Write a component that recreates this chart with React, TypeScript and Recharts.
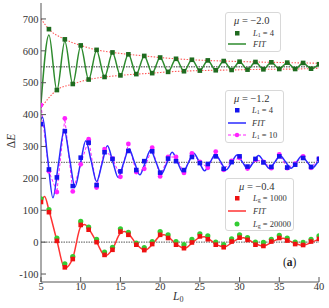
import React from "react";
import { ComposedChart, Line, Scatter, XAxis, YAxis, ReferenceLine } from "recharts";

// integer L0 grid used by the measured points
const L0 = [5, 6, 7, 8, 9, 10, 11, 12, 13, 14, 15, 16, 17, 18, 19, 20, 21, 22, 23, 24, 25, 26, 27, 28, 29, 30, 31, 32, 33, 34, 35, 36, 37, 38, 39, 40];

// mu = -2.0
const greenL1x = L0.slice(1);
const greenL1y = [668, 477, 636, 496, 617, 510, 603, 518, 595, 523, 589, 527, 584, 530, 579, 534, 575, 536, 572, 538, 570, 539, 568, 540, 566, 541, 565, 542, 564, 543, 563, 543, 562, 544, 558];
const greenFitY = [435, 650, 476, 630, 496, 614, 510, 601, 518, 594, 523, 589, 527, 584, 530, 579, 534, 575, 536, 572, 538, 570, 539, 568, 540, 566, 541, 565, 542, 564, 543, 563, 543, 562, 544, 558];
const upperEnvX = [5, 6, 8, 10, 12, 14, 16, 18, 20, 24, 28, 32, 36, 40];
const upperEnvY = [700, 668, 636, 617, 603, 595, 589, 584, 579, 572, 568, 565, 563, 561];
const lowerEnvX = [5, 7, 9, 11, 13, 15, 17, 19, 21, 25, 29, 33, 37, 40];
const lowerEnvY = [422, 477, 496, 510, 518, 523, 527, 530, 534, 538, 540, 542, 543, 545];

// mu = -1.2
const blueL1y = [370, 228, 203, 348, 176, 265, 312, 179, 282, 261, 222, 286, 226, 254, 285, 218, 262, 254, 226, 267, 248, 245, 269, 230, 251, 269, 237, 261, 250, 236, 269, 234, 243, 264, 236, 261];
const magentaL10y = [430, 222, 157, 388, 159, 244, 323, 171, 292, 262, 205, 308, 220, 230, 296, 206, 267, 267, 217, 278, 252, 233, 284, 227, 255, 264, 231, 258, 252, 232, 275, 232, 246, 269, 233, 262];
const blueFitX = [5, 5.2, 5.83, 6.5, 7.2, 7.92, 8.6, 9.28, 9.96, 10.64, 11.32, 12.0, 12.68, 13.36, 14.04, 14.72, 15.4, 16.08, 16.76, 17.44, 18.12, 18.8, 19.48, 20.16, 20.84, 21.52, 22.2, 22.88, 23.56, 24.24, 24.92, 25.6, 26.28, 26.96, 27.64, 28.32, 29.0, 29.68, 30.36, 31.04, 31.72, 32.4, 33.08, 33.76, 34.44, 35.12, 35.8, 36.48, 37.16, 37.84, 38.52, 39.2, 39.88, 40];
const blueFitY = [385, 392, 265, 139, 246, 352, 262, 173, 246, 318, 254, 190, 246, 302, 252, 203, 248, 292, 251, 211, 250, 289, 251, 214, 248, 282, 250, 219, 249, 279, 251, 224, 250, 275, 251, 227, 250, 273, 251, 229, 250, 272, 251, 231, 251, 271, 251, 232, 251, 270, 251, 233, 251, 253];

// mu = -0.4
const redLg1000y = [126, 94, 4, -79, -53, 54, 39, 0, -40, -24, 33, 23, -8, -25, -6, 23, 13, -8, -19, -1, 18, 9, -8, -16, 2, 14, 7, -8, -12, 2, 13, 5, -6, -9, 2, 10];
const greenLg20000y = [136, 102, 13, -68, -45, 65, 47, 9, -31, -16, 42, 31, -3, -17, 2, 33, 23, 2, -8, 9, 26, 20, 0, -8, 10, 23, 14, 0, -1, 9, 21, 13, 0, -1, 9, 20];
const redFitX = [5, 5.45, 6, 7, 8, 9, 10, 10.5, 11, 12, 13.1, 14, 15, 15.55, 16, 17, 18.1, 19, 20, 20.5, 21, 22, 23.1, 24, 25, 25.55, 26, 27, 28.1, 29, 30, 30.5, 31, 32, 33, 34, 35, 35.5, 36, 37, 38, 39, 40];
const redFitY = [123, 143, 100, 5, -82, -50, 48, 55, 42, 0, -43, -22, 28, 33, 27, -6, -26, -8, 20, 23, 17, -6, -19, -3, 15, 17, 12, -6, -15, -2, 12, 14, 9, -5, -12, -1, 11, 12, 7, -4, -10, -1, 9];

const refLevels = [550, 250, 0];
const xTicks = [5, 10, 15, 20, 25, 30, 35, 40];
const xMinorTicks = [7.5, 12.5, 17.5, 22.5, 27.5, 32.5, 37.5];
const yTicks = [-100, 0, 100, 200, 300, 400, 500, 600, 700];

const pts = (xs: number[], ys: number[]) => xs.map((x, i) => ({ x, y: ys[i] }));

const FONT = "'Liberation Serif', 'DejaVu Serif', serif";
const AXIS = "#555";

const square = (color: string, s: number) => (p: any) => (
  <rect x={p.cx - s / 2} y={p.cy - s / 2} width={s} height={s} fill={color} />
);
const dot = (color: string, r: number) => (p: any) => (
  <circle cx={p.cx} cy={p.cy} r={r} fill={color} />
);

const C = {
  greenSq: "#1f6b1f",
  greenLine: "#2e8b2e",
  env: "#ff5a5a",
  blue: "#1414ee",
  blueLine: "#2a2aff",
  magenta: "#ff22ff",
  red: "#ee1111",
  redLine: "#ff3333",
  lime: "#33cc33",
};

const Box: React.FC<{ left: number; top: number; width: number; height: number; children?: React.ReactNode }> = ({ left, top, width, height, children }) => (
  <div
    style={{
      position: "absolute",
      left,
      top,
      width,
      height,
      border: "1px solid #d8d8d8",
      borderRadius: 3,
      background: "rgba(255,255,255,0.9)",
      boxSizing: "border-box",
    }}
  >
    {children}
  </div>
);

const Txt: React.FC<{ left: number; top: number; size?: number; children?: React.ReactNode }> = ({ left, top, size = 8.5, children }) => (
  <div style={{ position: "absolute", left, top, fontSize: size, lineHeight: 1, whiteSpace: "nowrap", color: "#333", fontFamily: FONT }}>
    {children}
  </div>
);

const Mark: React.FC<{ left: number; top: number; kind: string; color: string }> = ({ left, top, kind, color }) => (
  <svg style={{ position: "absolute", left, top }} width={18} height={8}>
    {kind === "square" && <rect x={7} y={2} width={4.5} height={4.5} fill={color} />}
    {kind === "dot" && <circle cx={9} cy={4} r={2.5} fill={color} />}
    {kind === "line" && <line x1={0} y1={4} x2={18} y2={4} stroke={color} strokeWidth={1.5} />}
    {kind === "dashdot" && (
      <g>
        <line x1={0} y1={4} x2={18} y2={4} stroke={color} strokeWidth={1} strokeDasharray="3 2" />
        <circle cx={9} cy={4} r={2.2} fill={color} />
      </g>
    )}
  </svg>
);

const L = (sub: string) => (
  <>
    <i>L</i>
    <sub style={{ fontSize: "0.7em", verticalAlign: "-0.25em" }}>{sub}</sub>
  </>
);

const App: React.FC = () => {
  const tickStyle = { fontSize: 10.5, fill: "#333", fontFamily: FONT };
  return (
    <div style={{ position: "absolute", left: 0, top: 0, width: 329, height: 308, background: "#fff", fontFamily: FONT }}>
      <ComposedChart width={329} height={308} margin={{ top: 3, right: 10, bottom: 0, left: 0 }}>
        <XAxis dataKey="x" type="number" domain={[5, 40]} ticks={xTicks} interval={0} tickSize={-5} tickMargin={6} height={26} stroke={AXIS} tick={tickStyle} allowDataOverflow />
        <XAxis xAxisId="bm" type="number" domain={[5, 40]} ticks={xMinorTicks} interval={0} tickSize={-3} height={0} axisLine={false} tick={false} stroke={AXIS} allowDataOverflow />
        <XAxis xAxisId="top" orientation="top" type="number" domain={[5, 40]} ticks={xTicks} interval={0} tickSize={-5} height={0} tick={false} stroke={AXIS} allowDataOverflow />
        <XAxis xAxisId="tm" orientation="top" type="number" domain={[5, 40]} ticks={xMinorTicks} interval={0} tickSize={-3} height={0} axisLine={false} tick={false} stroke={AXIS} allowDataOverflow />
        <YAxis type="number" domain={[-125, 750]} ticks={yTicks} interval={0} tickSize={-5} tickMargin={7.5} width={41} stroke={AXIS} tick={tickStyle} allowDataOverflow />
        <YAxis yAxisId="r" orientation="right" type="number" domain={[-125, 750]} ticks={yTicks} interval={0} tickSize={-5} width={0} tick={false} stroke={AXIS} allowDataOverflow />

        {refLevels.map((v) => (
          <ReferenceLine key={v} y={v} stroke="#777" strokeWidth={1.3} strokeDasharray="1.5 1" />
        ))}

        <Line data={pts(upperEnvX, upperEnvY)} dataKey="y" type="monotone" stroke={C.env} strokeWidth={1.1} strokeDasharray="1.5 1.5" dot={false} activeDot={false} isAnimationActive={false} />
        <Line data={pts(lowerEnvX, lowerEnvY)} dataKey="y" type="monotone" stroke={C.env} strokeWidth={1.1} strokeDasharray="1.5 1.5" dot={false} activeDot={false} isAnimationActive={false} />
        <Line data={pts(L0, greenFitY)} dataKey="y" type="monotone" stroke={C.greenLine} strokeWidth={1.5} dot={false} activeDot={false} isAnimationActive={false} />
        <Scatter data={pts(greenL1x, greenL1y)} dataKey="y" shape={square(C.greenSq, 4.6)} isAnimationActive={false} />

        <Line data={pts(L0, magentaL10y)} dataKey="y" type="linear" stroke={C.magenta} strokeWidth={1} strokeDasharray="3 2" dot={false} activeDot={false} isAnimationActive={false} />
        <Line data={pts(blueFitX, blueFitY)} dataKey="y" type="monotone" stroke={C.blueLine} strokeWidth={1.5} dot={false} activeDot={false} isAnimationActive={false} />
        <Scatter data={pts(L0, magentaL10y)} dataKey="y" shape={dot(C.magenta, 2.4)} isAnimationActive={false} />
        <Scatter data={pts(L0, blueL1y)} dataKey="y" shape={square(C.blue, 4.6)} isAnimationActive={false} />

        <Line data={pts(redFitX, redFitY)} dataKey="y" type="monotone" stroke={C.redLine} strokeWidth={1.5} dot={false} activeDot={false} isAnimationActive={false} />
        <Scatter data={pts(L0, greenLg20000y)} dataKey="y" shape={dot(C.lime, 2.6)} isAnimationActive={false} />
        <Scatter data={pts(L0, redLg1000y)} dataKey="y" shape={square(C.red, 4.6)} isAnimationActive={false} />
      </ComposedChart>

      {/* axis titles */}
      <div style={{ position: "absolute", left: 4, top: 135, transform: "rotate(-90deg)", fontSize: 11.5, color: "#333", whiteSpace: "nowrap" }}>
        Δ<i>E</i>
      </div>
      <div style={{ position: "absolute", left: 173, top: 290, fontSize: 11.5, color: "#333", whiteSpace: "nowrap" }}>
        {L("0")}
      </div>

      {/* legends */}
      <Box left={225} top={12} width={56} height={40}>
        <Txt left={8} top={3} size={10.5}>
          <i>μ</i> = −2.0
        </Txt>
        <Mark left={2} top={16} kind="square" color={C.greenSq} />
        <Txt left={27} top={16}>{L("1")} = 4</Txt>
        <Mark left={2} top={27} kind="line" color={C.greenLine} />
        <Txt left={27} top={27}>
          <i>FIT</i>
        </Txt>
      </Box>

      <Box left={225} top={90} width={59} height={53}>
        <Txt left={8} top={3} size={10.5}>
          <i>μ</i> = −1.2
        </Txt>
        <Mark left={2} top={15} kind="square" color={C.blue} />
        <Txt left={26} top={15}>{L("1")} = 4</Txt>
        <Mark left={2} top={28} kind="line" color={C.blueLine} />
        <Txt left={26} top={28}>
          <i>FIT</i>
        </Txt>
        <Mark left={2} top={40} kind="dashdot" color={C.magenta} />
        <Txt left={26} top={40}>{L("1")} = 10</Txt>
      </Box>

      <Box left={225} top={178} width={69} height={53}>
        <Txt left={13} top={3} size={10.5}>
          <i>μ</i> = −0.4
        </Txt>
        <Mark left={2} top={15} kind="square" color={C.red} />
        <Txt left={27} top={15}>{L("g")} = 1000</Txt>
        <Mark left={2} top={28} kind="line" color={C.redLine} />
        <Txt left={27} top={28}>
          <i>FIT</i>
        </Txt>
        <Mark left={2} top={41} kind="dot" color={C.lime} />
        <Txt left={27} top={41}>{L("g")} = 20000</Txt>
      </Box>

      <div style={{ position: "absolute", left: 283, top: 256, fontSize: 11.5, color: "#222", whiteSpace: "nowrap" }}>
        (<b>a</b>)
      </div>
    </div>
  );
};

export default App;
